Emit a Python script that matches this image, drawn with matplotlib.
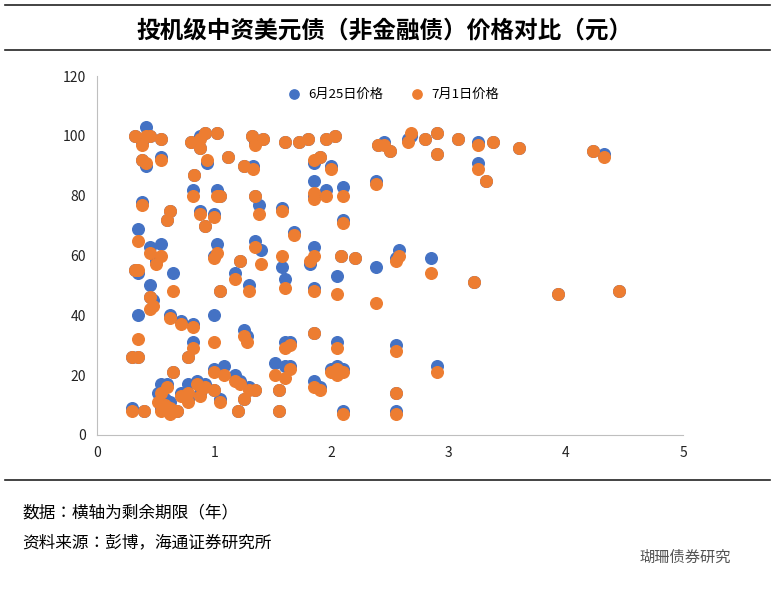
import matplotlib
matplotlib.use("Agg")
import matplotlib.pyplot as plt
from matplotlib import font_manager
from matplotlib.lines import Line2D

names = {f.name for f in font_manager.fontManager.ttflist}
cjk = [n for n in ["Noto Sans CJK SC", "Noto Sans CJK JP", "Noto Sans CJK TC", "Noto Sans CJK KR"] if n in names]
plt.rcParams["font.family"] = cjk + ["DejaVu Sans"]

x = [0.32,0.42,0.38,0.45,0.55,0.8,0.88,0.92,1.02,1.32,1.35,1.42,1.6,1.72,1.8,1.95,2.03,2.4,2.45,2.5,2.65,2.68,2.8,2.9,3.08,3.25,3.38,3.6,4.23,4.33,
     0.38,0.42,0.55,0.88,0.94,1.12,1.25,1.33,1.85,1.9,2.0,2.9,3.25,3.32,
     0.38,0.82,1.02,1.05,1.35,1.85,1.85,1.95,2.1,2.38,0.83,
     0.35,0.6,0.62,0.88,0.92,1.0,1.38,1.58,1.68,2.1,
     0.45,0.5,0.55,0.65,0.35,0.32,1.02,1.0,1.18,1.22,1.35,1.4,1.58,1.6,1.85,1.82,1.85,2.08,2.2,2.05,2.38,2.55,2.58,2.85,3.22,3.93,4.45,1.3,1.05,0.45,0.48,
     0.45,0.35,0.62,0.72,0.82,1.0,0.82,0.78,0.3,0.35,0.65,
     1.25,1.28,1.6,1.65,1.85,2.05,2.55,1.52,1.6,1.65,2.0,2.05,2.1,2.05,2.9,1.85,1.9,1.3,1.18,1.22,1.08,1.0,0.92,0.85,0.78,0.72,0.78,0.6,0.55,0.52,0.58,0.62,0.55,0.62,0.68,0.3,0.4,1.2,1.25,1.55,2.1,2.55,2.55,1.55,1.35,1.0,1.05,0.88]
june25 = [100,103,98,100,99,98,100,101,101,100,98,99,98,98,99,99,100,97,98,95,99,100,99,101,99,98,98,96,95,94,
          92,90,93,96,91,93,90,90,91,93,90,94,91,85,
          78,82,82,80,80,85,80,82,83,85,87,
          69,72,75,75,70,74,77,76,68,72,
          63,58,64,54,54,55,64,60,54,58,65,62,56,52,63,57,49,60,59,53,56,59,62,59,51,47,48,50,48,46,45,
          50,40,40,38,37,40,31,26,26,26,21,
          35,33,31,31,34,31,30,24,23,23,22,23,22,21,23,18,16,16,20,18,23,22,17,18,17,14,12,17,17,14,12,11,9,8,8,9,8,8,12,8,8,8,14,15,15,15,12,14]
july1 = [100,100,97,100,99,98,99,101,101,100,97,99,98,98,99,99,100,97,97,95,98,101,99,101,99,97,98,96,95,93,
         92,91,92,96,92,93,90,89,92,93,89,94,89,85,
         77,80,80,80,80,81,79,80,80,84,87,
         65,72,75,74,70,73,74,75,67,71,
         61,57,60,48,55,55,61,59,52,58,63,57,60,49,60,58,48,60,59,47,44,58,60,54,51,47,48,48,48,46,43,
         42,32,39,37,36,31,29,26,26,26,21,
         33,31,29,30,34,29,28,20,19,22,21,22,21,20,21,16,15,15,18,17,20,21,16,17,14,13,11,16,14,11,10,9,8,7,8,8,8,8,12,8,7,7,14,15,15,15,11,13]
series_names = ["6月25日价格", "7月1日价格"]

fig = plt.figure(figsize=(7.77, 5.91), dpi=100)
for yy in [5, 50, 480]:
    fig.add_artist(Line2D([5/777, 770/777], [1-yy/591]*2, color="#222222", lw=1.2))
fig.text(385/777, 1-31/591, "投机级中资美元债（非金融债）价格对比（元）", ha="center", va="center",
         fontsize=17, fontweight="bold")
ax = fig.add_axes([97/777, 1-435/591, 586/777, 359/591])
ax.scatter(x, june25, s=70, color="#4472C4", label=series_names[0], zorder=2)
ax.scatter(x, july1, s=70, color="#ED7D31", label=series_names[1], zorder=3)
ax.set_xlim(0, 5)
ax.set_ylim(0, 120)
ax.set_xticks(range(6))
ax.set_yticks(range(0, 121, 20))
for s in ["top", "right"]:
    ax.spines[s].set_visible(False)
for s in ["left", "bottom"]:
    ax.spines[s].set_color("#bfbfbf")
ax.tick_params(length=0, labelsize=10, colors="#222222", pad=8)
ax.legend(loc="upper center", bbox_to_anchor=(0.5, 1.0), ncol=2, frameon=False, fontsize=9.5,
          handletextpad=0.1, columnspacing=1.5, markerscale=0.8)
fig.text(22/777, 1-513/591, "数据：横轴为剩余期限（年）", fontsize=12, va="center")
fig.text(22/777, 1-543/591, "资料来源：彭博，海通证券研究所", fontsize=12, va="center")
fig.text(640/777, 1-557/591, "瑚珊债券研究", fontsize=11, va="center", color="#555555")
fig.savefig("out.png", dpi=100)
